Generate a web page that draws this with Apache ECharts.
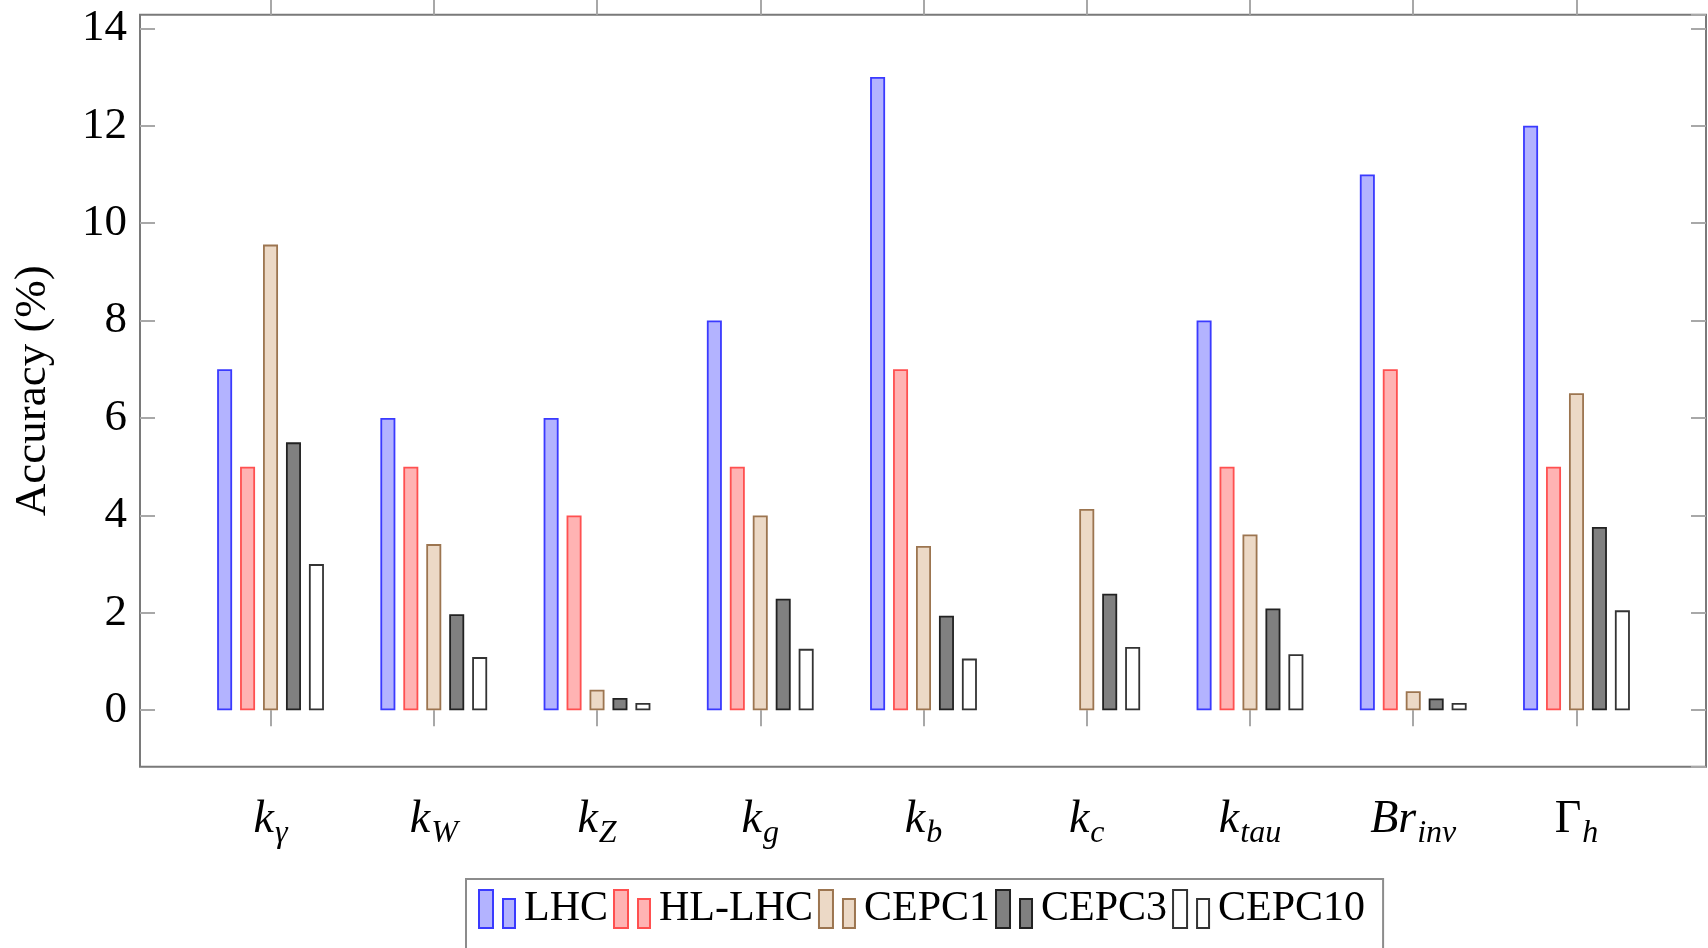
<!DOCTYPE html>
<html>
<head>
<meta charset="utf-8">
<script src="https://cdn.jsdelivr.net/npm/echarts@6/dist/echarts.min.js"></script>
<style>
  html, body { margin: 0; padding: 0; background: #fff; }
  #chart { width: 1708px; height: 948px; }
</style>
</head>
<body>
<div id="chart"></div>
<script>
// Coupling / width measurement accuracy per collider scenario
const labelMain = ['k', 'k', 'k', 'k', 'k', 'k', 'k', 'Br', 'Γ'];
const labelSub  = ['γ', 'W', 'Z', 'g', 'b', 'c', 'tau', 'inv', 'h'];
const categories = labelMain.map((m, i) => m + '_' + labelSub[i]);

const seriesNames = ['LHC', 'HL-LHC', 'CEPC1', 'CEPC3', 'CEPC10'];
const lhc    = [7, 6, 6, 8, 13, null, 8, 11, 12];
const hlLhc  = [5, 5, 4, 5, 7, null, 5, 7, 5];
const cepc1  = [9.56, 3.41, 0.42, 4.0, 3.37, 4.13, 3.61, 0.39, 6.51];
const cepc3  = [5.5, 1.97, 0.25, 2.29, 1.94, 2.39, 2.09, 0.24, 3.76];
const cepc10 = [3.0, 1.09, 0.15, 1.26, 1.06, 1.30, 1.15, 0.15, 2.05];

const yMin = -1.16;
const yMax = 14.28;

const fills   = ['#b3b3ff', '#ffb3b3', '#ecd9c6', '#808080', '#ffffff'];
const borders = ['#3a3aff', '#ff5050', '#9c7550', '#222222', '#333333'];
const values  = [lhc, hlLhc, cepc1, cepc3, cepc10];

const FONT = 'Liberation Serif';
const tickColor = '#a8a8a8';

const chart = echarts.init(document.getElementById('chart'));

const series = seriesNames.map((name, i) => ({
  name: name,
  type: 'bar',
  xAxisIndex: 0,
  yAxisIndex: 2,
  data: values[i],
  barWidth: 15,
  barGap: '53%',
  itemStyle: {
    color: fills[i],
    borderColor: borders[i],
    borderWidth: 1.8
  },
  emphasis: { disabled: true }
}));

const option = {
  animation: false,
  backgroundColor: '#ffffff',
  grid: [
    // band layout for the bars
    { left: 188.9, top: 14.7, width: 1469.2, height: 752, outerBoundsMode: 'none', containLabel: false },
    // surrounding frame
    { left: 140, top: 14.7, width: 1566, height: 752, show: true, outerBoundsMode: 'none', containLabel: false,
      borderColor: '#7a7a7a', borderWidth: 2, backgroundColor: 'transparent' }
  ],
  xAxis: [
    {
      type: 'category', gridIndex: 0, position: 'bottom', data: categories,
      axisLine: { show: false },
      axisTick: { show: true, alignWithLabel: true, length: 16, lineStyle: { color: tickColor, width: 2 } },
      axisLabel: {
        margin: 30,
        formatter: (v, i) => {
          const mainStyle = labelMain[i] === 'Γ' ? 'g' : 'm';
          return '{' + mainStyle + '|' + labelMain[i] + '}{s|' + labelSub[i] + '}';
        },
        rich: {
          m: { fontFamily: FONT, fontStyle: 'italic', fontSize: 46, lineHeight: 46, color: '#000' },
          g: { fontFamily: FONT, fontSize: 46, lineHeight: 46, color: '#000' },
          s: { fontFamily: FONT, fontStyle: 'italic', fontSize: 32, lineHeight: 20, padding: [28, 0, 0, 1], color: '#000' }
        }
      }
    },
    {
      type: 'category', gridIndex: 0, position: 'top', data: categories,
      axisLine: { show: false },
      axisTick: { show: true, alignWithLabel: true, length: 16, lineStyle: { color: tickColor, width: 2 } },
      axisLabel: { show: false }
    },
    { type: 'category', gridIndex: 1, show: false, data: categories }
  ],
  yAxis: [
    {
      type: 'value', gridIndex: 1, position: 'left', min: yMin, max: yMax,
      splitNumber: 7, minInterval: 2, maxInterval: 2,
      axisLine: { show: false },
      splitLine: { show: false },
      axisTick: { show: true, inside: true, length: 15, lineStyle: { color: tickColor, width: 2 } },
      axisLabel: {
        showMinLabel: false, showMaxLabel: false, margin: 13,
        fontFamily: FONT, fontSize: 45, color: '#000'
      },
      name: 'Accuracy (%)',
      nameLocation: 'middle',
      nameRotate: 90,
      nameGap: 84,
      nameTextStyle: { fontFamily: FONT, fontSize: 45, color: '#000' }
    },
    {
      type: 'value', gridIndex: 1, position: 'right', min: yMin, max: yMax,
      splitNumber: 7, minInterval: 2, maxInterval: 2,
      axisLine: { show: false },
      splitLine: { show: false },
      axisTick: { show: true, inside: true, length: 15, lineStyle: { color: tickColor, width: 2 } },
      axisLabel: { show: false }
    },
    {
      type: 'value', gridIndex: 0, min: yMin, max: yMax, show: false,
      splitLine: { show: false }
    }
  ],
  legend: {
    data: seriesNames,
    left: 466,
    top: 879,
    orient: 'horizontal',
    padding: [9, 18, 40, 12],
    itemGap: 5,
    itemWidth: 36,
    itemHeight: 38,
    icon: 'path://M0,0H14V38H0Z M24,9H36V38H24Z',
    borderColor: '#8c8c8c',
    borderWidth: 2,
    selectedMode: false,
    textStyle: { fontFamily: FONT, fontSize: 42, color: '#000', padding: [16, 0, 0, 4] }
  },
  series: series
};

chart.setOption(option);
</script>
</body>
</html>
